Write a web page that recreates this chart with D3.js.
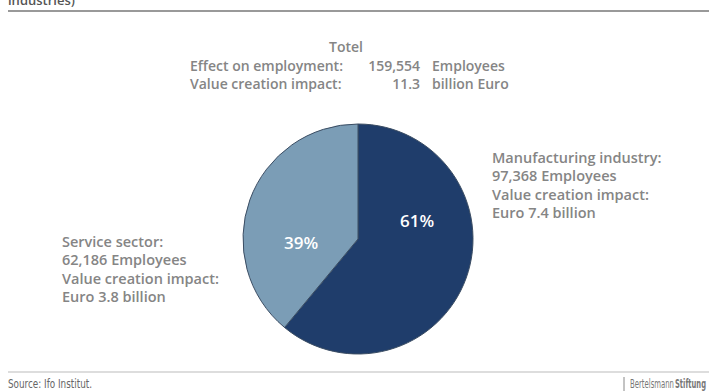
<!DOCTYPE html>
<html><head><meta charset="utf-8">
<script src="https://cdn.jsdelivr.net/npm/d3@7"></script>
<style>
html,body{margin:0;padding:0;background:#fff;}
svg{display:block;font-family:"Open Sans",sans-serif;}
</style></head>
<body><svg id="c" width="709" height="391"></svg>
<script>
const sectors = ["Manufacturing industry", "Service sector"];
const employees = [97368, 62186];
const valueCreation = [7.4, 3.8];
const totalEmployees = 159554;
const totalValue = 11.3;
const colors = ["#1f3d6b", "#7b9db6"];

const svg = d3.select("#c");
const W = 709, H = 391;
const grey = "#858585";

// header fragment and rule
svg.append("text").attr("x", 8).attr("y", 5).attr("font-size", 13).attr("font-weight", 600)
  .attr("fill", "#555").text("industries)");
svg.append("line").attr("x1", 8).attr("x2", W).attr("y1", 11).attr("y2", 11)
  .attr("stroke", "#999").attr("stroke-width", 2);

// totals block
const tot = svg.append("g").attr("font-size", 14).attr("font-weight", 600).attr("fill", grey);
tot.append("text").attr("x", 346).attr("y", 52).attr("text-anchor", "middle").text("Totel");
tot.append("text").attr("x", 190).attr("y", 71).text("Effect on employment:");
tot.append("text").attr("x", 420).attr("y", 71).attr("text-anchor", "end").text(d3.format(",")(totalEmployees));
tot.append("text").attr("x", 432).attr("y", 71).text("Employees");
tot.append("text").attr("x", 190).attr("y", 89).text("Value creation impact:");
tot.append("text").attr("x", 420).attr("y", 89).attr("text-anchor", "end").text(d3.format(".1f")(totalValue));
tot.append("text").attr("x", 432).attr("y", 89).text("billion Euro");

// pie
const cx = 358, cy = 239, r = 115;
const pie = d3.pie().sort(null).value(d => d)(employees);
const arc = d3.arc().innerRadius(0).outerRadius(r);
const g = svg.append("g").attr("transform", `translate(${cx},${cy})`);
g.selectAll("path").data(pie).join("path")
  .attr("d", arc).attr("fill", (d, i) => colors[i])
  .attr("stroke", "#3b4d63").attr("stroke-width", 1);

const total = d3.sum(employees);
const labelPos = [[59, -19], [-57, 3]];
g.selectAll("text.pct").data(pie).join("text").attr("class", "pct")
  .attr("x", (d, i) => labelPos[i][0]).attr("y", (d, i) => labelPos[i][1])
  .attr("text-anchor", "middle").attr("dominant-baseline", "central")
  .attr("font-size", 17).attr("font-weight", 600).attr("fill", "#fff")
  .text(d => Math.round(d.value / total * 100) + "%");

// sector annotations
const ann = [
  {x: 492, y: 163, i: 0},
  {x: 62, y: 247, i: 1}
];
ann.forEach(a => {
  const lines = [sectors[a.i] + ":", d3.format(",")(employees[a.i]) + " Employees",
    "Value creation impact:", "Euro " + d3.format(".1f")(valueCreation[a.i]) + " billion"];
  const t = svg.append("text").attr("font-size", 14.5).attr("font-weight", 600).attr("fill", grey);
  lines.forEach((l, k) => t.append("tspan").attr("x", a.x).attr("y", a.y + k * 18.3).text(l));
});

// footer
svg.append("line").attr("x1", 8).attr("x2", W).attr("y1", 372).attr("y2", 372)
  .attr("stroke", "#bbb").attr("stroke-width", 1);
svg.append("text").attr("x", 8).attr("y", 388).attr("font-size", 12)
  .attr("font-family", "'DejaVu Sans Condensed', sans-serif").attr("fill", "#666")
  .attr("textLength", 84).attr("lengthAdjust", "spacingAndGlyphs").text("Source: Ifo Institut.");
svg.append("line").attr("x1", 624).attr("x2", 624).attr("y1", 377).attr("y2", 391)
  .attr("stroke", "#888").attr("stroke-width", 1);
svg.append("text").attr("x", 630).attr("y", 388)
  .attr("font-size", 12).attr("fill", "#777")
  .attr("font-family", "'DejaVu Sans Condensed', sans-serif")
  .attr("textLength", 44).attr("lengthAdjust", "spacingAndGlyphs").text("Bertelsmann");
svg.append("text").attr("x", 675).attr("y", 388)
  .attr("font-size", 12).attr("fill", "#777").attr("font-weight", "bold")
  .attr("font-family", "'DejaVu Sans Condensed', sans-serif")
  .attr("textLength", 31).attr("lengthAdjust", "spacingAndGlyphs").text("Stiftung");
</script></body></html>
